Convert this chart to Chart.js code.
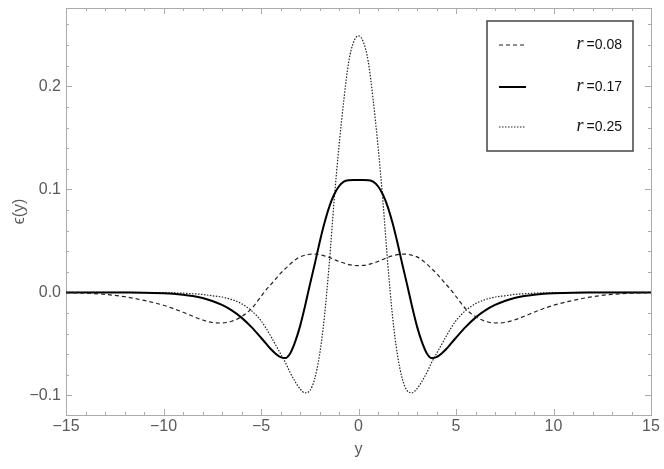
<!DOCTYPE html>
<html>
<head>
<meta charset="utf-8">
<script src="https://cdn.jsdelivr.net/npm/chart.js@4"></script>
<style>
  html, body { margin: 0; padding: 0; background: #fff; }
  #wrap { width: 664px; height: 469px; }
</style>
</head>
<body>
<div id="wrap"><canvas id="chart" width="664" height="469"></canvas></div>
<script>
// sample positions along y (finer near the centre where the curves change fast)
const yPositions = [-15, -14, -13, -12, -11, -10, -9.5, -9, -8.5, -8, -7.5, -7, -6.5, -6, -5.5, -5,
    -4.75, -4.5, -4.25, -4, -3.75, -3.5, -3.25, -3, -2.75, -2.5, -2.25, -2, -1.75, -1.5, -1.25, -1,
    -0.75, -0.5, -0.25, 0, 0.25, 0.5, 0.75, 1, 1.25, 1.5, 1.75, 2, 2.25, 2.5, 2.75, 3, 3.25, 3.5,
    3.75, 4, 4.25, 4.5, 4.75, 5, 5.5, 6, 6.5, 7, 7.5, 8, 8.5, 9, 9.5, 10, 11, 12, 13, 14, 15];

// eps(y) for r = 0.08 (dashed)
const epsR008 = [-0.0003, -0.0008, -0.0019, -0.0042, -0.0078, -0.0125, -0.0157, -0.0193, -0.0232, -0.0268,
    -0.0292, -0.0297, -0.028, -0.0235, -0.016, -0.004, 0.0022, 0.0075, 0.013, 0.0185, 0.023, 0.0275,
    0.0315, 0.0345, 0.036, 0.037, 0.0371, 0.0366, 0.0355, 0.034, 0.032, 0.030, 0.0285, 0.027, 0.0262,
    0.026,
    0.0262, 0.027, 0.0285, 0.030, 0.032, 0.034, 0.0355, 0.0366, 0.0371, 0.037, 0.036, 0.0345, 0.0315,
    0.0275, 0.023, 0.0185, 0.013, 0.0075, 0.0022, -0.004, -0.016, -0.0235, -0.028, -0.0297, -0.0292,
    -0.0268, -0.0232, -0.0193, -0.0157, -0.0125, -0.0078, -0.0042, -0.0019, -0.0008, -0.0003];

// eps(y) for r = 0.17 (solid)
const epsR017 = [0, 0, 0, -0.0001, -0.0003, -0.0009, -0.0014, -0.0023, -0.0036, -0.0055,
    -0.0083, -0.0122, -0.0175, -0.0245, -0.0335, -0.044, -0.0495, -0.055, -0.0595, -0.0628, -0.0638,
    -0.059, -0.048, -0.033, -0.014, 0.007, 0.027, 0.048, 0.067, 0.083, 0.095, 0.103, 0.1075, 0.1088,
    0.109,
    0.109,
    0.109, 0.1088, 0.1075, 0.103, 0.095, 0.083, 0.067, 0.048, 0.027, 0.007, -0.014, -0.033, -0.048,
    -0.059, -0.0638, -0.0628, -0.0595, -0.055, -0.0495, -0.044, -0.0335, -0.0245, -0.0175, -0.0122,
    -0.0083, -0.0055, -0.0036, -0.0023, -0.0014, -0.0009, -0.0003, -0.0001, 0, 0, 0];

// eps(y) for r = 0.25 (dotted)
const epsR025 = [0, 0, 0, 0, -0.0001, -0.0003, -0.0005, -0.0008, -0.0013, -0.002,
    -0.0033, -0.0045, -0.007, -0.011, -0.0175, -0.0275, -0.0345, -0.0425, -0.051, -0.0595, -0.068,
    -0.078, -0.0865, -0.0935, -0.0975, -0.0955, -0.084, -0.061, -0.024, 0.028, 0.089, 0.142, 0.187,
    0.224, 0.243,
    0.249,
    0.243, 0.224, 0.187, 0.142, 0.089, 0.028, -0.024, -0.061, -0.084, -0.0955, -0.0975, -0.0935,
    -0.0865, -0.078, -0.068, -0.0595, -0.051, -0.0425, -0.0345, -0.0275, -0.0175, -0.011, -0.007,
    -0.0045, -0.0033, -0.002, -0.0013, -0.0008, -0.0005, -0.0003, -0.0001, 0, 0, 0, 0];

const rValues = ['0.08', '0.17', '0.25'];
const xTickValues = [-15, -10, -5, 0, 5, 10, 15];
const yTickValues = [-0.1, 0, 0.1, 0.2];

const GRAY = '#5a5a5a';
const FRAME = '#ababab';
const SANS = "'Liberation Sans', Arial, sans-serif";

const toPoints = vals => vals.map((v, i) => ({ x: yPositions[i], y: v }));
const minus = s => s.replace('-', '\u2212');

// Mathematica-style frame: box with inward major/minor ticks on all four sides
const framePlugin = {
    id: 'frame',
    beforeDatasetsDraw(chart) {
        const { ctx, chartArea: a, scales: { x, y } } = chart;
        ctx.save();
        ctx.strokeStyle = FRAME;
        ctx.lineWidth = 1;
        ctx.strokeRect(Math.round(a.left) + 0.5, Math.round(a.top) + 0.5,
            Math.round(a.right - a.left), Math.round(a.bottom - a.top));
        ctx.beginPath();
        for (let v = x.min; v <= x.max; v++) {
            const px = Math.round(x.getPixelForValue(v)) + 0.5;
            const len = v % 5 === 0 ? 6 : 3;
            ctx.moveTo(px, a.bottom); ctx.lineTo(px, a.bottom - len);
            ctx.moveTo(px, a.top); ctx.lineTo(px, a.top + len);
        }
        for (let k = -5; k <= 13; k++) {
            const py = Math.round(y.getPixelForValue(k * 0.02)) + 0.5;
            const len = k % 5 === 0 ? 6 : 3;
            ctx.moveTo(a.left, py); ctx.lineTo(a.left + len, py);
            ctx.moveTo(a.right, py); ctx.lineTo(a.right - len, py);
        }
        ctx.stroke();
        ctx.restore();
    }
};

// framed legend in the upper right, line sample on the left, "r =value" on the right
const boxLegendPlugin = {
    id: 'boxLegend',
    afterDatasetsDraw(chart) {
        const { ctx, chartArea: a } = chart;
        const box = { left: a.right - 164, top: a.top + 13, right: a.right - 18, bottom: a.top + 143 };
        ctx.save();
        ctx.fillStyle = '#fff';
        ctx.fillRect(box.left, box.top, box.right - box.left, box.bottom - box.top);
        ctx.strokeStyle = '#444';
        ctx.lineWidth = 1.5;
        ctx.strokeRect(box.left, box.top, box.right - box.left, box.bottom - box.top);
        const rows = [24, 66, 106];
        chart.data.datasets.forEach((ds, i) => {
            const cy = box.top + rows[i];
            ctx.beginPath();
            ctx.setLineDash(ds.borderDash || []);
            ctx.strokeStyle = ds.borderColor;
            ctx.lineWidth = ds.borderWidth;
            ctx.moveTo(box.left + 12, cy);
            ctx.lineTo(box.left + 39, cy);
            ctx.stroke();
            ctx.setLineDash([]);
            ctx.fillStyle = '#111';
            ctx.textBaseline = 'middle';
            ctx.textAlign = 'right';
            ctx.font = '14px ' + SANS;
            const tail = '=' + rValues[i];
            const tx = box.right - 11;
            ctx.fillText(tail, tx, cy);
            const w = ctx.measureText(tail).width;
            ctx.font = 'italic 18px "Liberation Serif", "Times New Roman", serif';
            ctx.fillText('r', tx - w - 3, cy - 1);
        });
        ctx.restore();
    }
};

new Chart(document.getElementById('chart'), {
    type: 'line',
    data: {
        datasets: [
            {
                label: 'r =' + rValues[0],
                data: toPoints(epsR008),
                borderColor: '#222',
                borderWidth: 1.2,
                borderDash: [4, 3]
            },
            {
                label: 'r =' + rValues[1],
                data: toPoints(epsR017),
                borderColor: '#000',
                borderWidth: 2
            },
            {
                label: 'r =' + rValues[2],
                data: toPoints(epsR025),
                borderColor: '#222',
                borderWidth: 1.2,
                borderDash: [1.5, 1.5]
            }
        ]
    },
    options: {
        responsive: false,
        devicePixelRatio: 1,
        animation: false,
        clip: false,
        elements: {
            point: { radius: 0 },
            line: { cubicInterpolationMode: 'monotone', fill: false }
        },
        layout: { padding: { left: 0, right: 13, top: 8, bottom: 0 } },
        plugins: {
            legend: { display: false },
            tooltip: { enabled: false }
        },
        scales: {
            x: {
                type: 'linear',
                min: -15,
                max: 15,
                afterBuildTicks: s => { s.ticks = xTickValues.map(v => ({ value: v })); },
                afterFit: s => { s.height = 54; s.paddingLeft = 0; s.paddingRight = 0; },
                grid: { display: false, drawTicks: false },
                border: { display: false },
                ticks: {
                    color: GRAY,
                    padding: 2,
                    maxRotation: 0,
                    font: { family: SANS, size: 16 },
                    callback: v => minus(String(v))
                },
                title: {
                    display: true,
                    text: 'y',
                    color: GRAY,
                    font: { family: SANS, size: 16 },
                    padding: { top: 0, bottom: 10 }
                }
            },
            y: {
                type: 'linear',
                min: -0.119,
                max: 0.276,
                afterBuildTicks: s => { s.ticks = yTickValues.map(v => ({ value: v })); },
                afterFit: s => { s.width = 66; s.paddingTop = 0; s.paddingBottom = 0; },
                grid: { display: false, drawTicks: false },
                border: { display: false },
                ticks: {
                    color: GRAY,
                    padding: 5,
                    font: { family: SANS, size: 16 },
                    callback: v => minus(v.toFixed(1))
                },
                title: {
                    display: true,
                    text: '\u03F5(y)',
                    color: GRAY,
                    font: { family: SANS, size: 16 },
                    padding: { top: 10, bottom: 0 }
                }
            }
        }
    },
    plugins: [framePlugin, boxLegendPlugin]
});
</script>
</body>
</html>
